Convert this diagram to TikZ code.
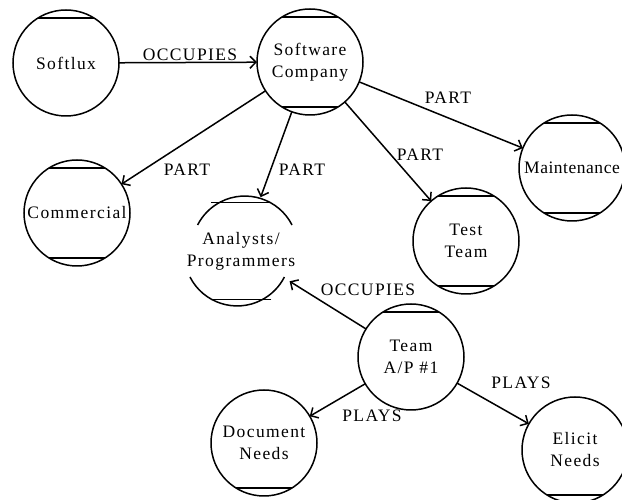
\documentclass[tikz,border=0pt]{standalone}
\usepackage{fontspec}
\setmainfont{Liberation Serif}[LetterSpace=8]
\usetikzlibrary{arrows.meta}
\begin{document}
\begin{tikzpicture}[x=1bp,y=1bp,
  txt/.style={font=\fontsize{17.5bp}{22bp}\selectfont},
  ent/.style={txt, circle, draw, line width=1.5bp, minimum size=106bp, inner sep=0pt, outer sep=0pt, align=center},
  rel/.style={line width=1.5bp, -{Straight Barb[length=6bp,width=12bp,line width=1.5bp]}},
  lab/.style={txt, inner sep=0pt},
  chord/.style={line width=1.5bp}
]
\useasboundingbox (0,0) rectangle (622,500);
\clip (0,0) rectangle (622,500);

\node[ent] (softlux) at (66,437) {Softlux};
\node[ent] (sc) at (310,438) {Software\\Company};
\node[ent] (comm) at (77,287) {Commercial};
\node[ent, draw=none] (ap) at (241,249) {Analysts/\\Programmers};
\node[ent] (test) at (466,259) {Test\\Team};
\node[ent] (maint) at (572,332) {\addfontfeature{LetterSpace=3}Maintenance};
\node[ent] (team) at (411,143) {Team\\A/P \#1};
\node[ent] (doc) at (264,57) {Document\\Needs};
\node[ent] (elicit) at (575,50) {Elicit\\Needs};

% open circle of Analysts/Programmers
\draw[chord] (ap.27) arc[start angle=27, end angle=153, radius=53bp];
\draw[chord] (ap.207) arc[start angle=207, end angle=333, radius=53bp];

% chords
\foreach \n in {softlux, sc, comm, ap, test, maint, team}
  \draw[chord] (\n.58) -- (\n.122);
\foreach \n in {sc, comm, ap, test, maint, doc, elicit}
  \draw[chord] (\n.-58) -- (\n.-122);

% connectors
\draw[rel] (softlux) -- (sc);
\draw[rel] (sc) -- (comm);
\draw[rel] (sc) -- (ap);
\draw[rel] (sc) -- (test);
\draw[rel] (sc) -- (maint);
\draw[rel] (team) -- (ap);
\draw[rel] (team) -- (doc);
\draw[rel] (team) -- (elicit);

% labels
\node[lab, anchor=south] (l1) at (190,439) {OCCUPIES};
\node[lab] (l2) at (187,330) {PART};
\node[lab] (l3) at (302,330) {PART};
\node[lab] (l4) at (420,345) {PART};
\node[lab] (l5) at (448,402) {PART};
\node[lab] (l6) at (368,210) {OCCUPIES};
\node[lab] (l7) at (372,84) {PLAYS};
\node[lab] (l8) at (521,117) {PLAYS};
\end{tikzpicture}
\end{document}
